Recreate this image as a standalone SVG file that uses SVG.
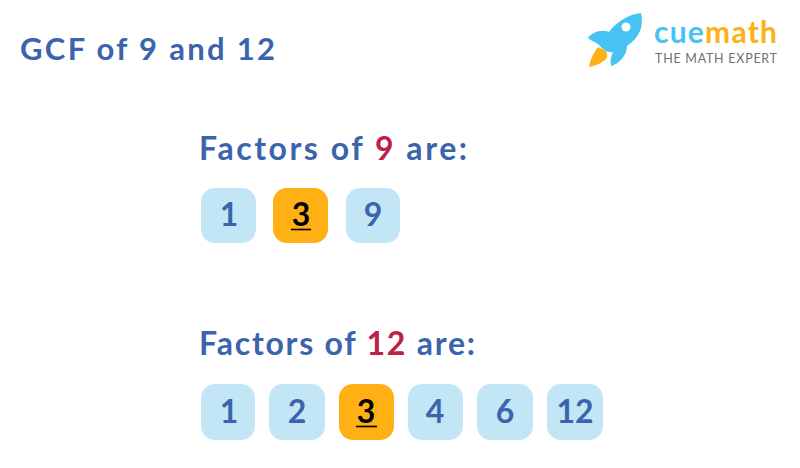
<svg xmlns="http://www.w3.org/2000/svg" width="800" height="468" viewBox="0 0 800 468">
<style>
text{font-family:"Lato","Noto Sans",sans-serif;font-weight:700}
.h{fill:#3b64ad;font-size:32px}
.r{fill:#be2047}
.n{fill:#3b64ad;font-size:32px;text-anchor:middle}
.k{fill:#000;font-size:32px;text-anchor:middle}
.b{fill:#c2e6f6}
.o{fill:#feb014}
.u{stroke:#000;stroke-width:1.6}
</style>
<rect width="800" height="468" fill="#fff"/>
<text id="title" x="20" y="60" class="h" style="font-size:31px" textLength="255" lengthAdjust="spacing">GCF of 9 and 12</text>
<g id="logo">
<path d="M641 13C644 26 640 37 627 46C627 55 620 63 611 66C610 61 611 56 613 52C608 53 603 50 599 45C596 42 591 41 588 38C592 32 602 29 609 32C617 21 630 14 641 13Z" fill="#46c3f3"/>
<circle cx="626" cy="27" r="4.500" fill="#fff"/>
<path d="M598 47L606 51C608 55 607 58 605 60C600 64 594 66 589 67C590 60 593 53 598 47Z" fill="#feb014"/>
<text x="654" y="43" style="font-size:30px;fill:#46c3f3;font-weight:700" textLength="123" lengthAdjust="spacing">cue<tspan fill="#feb014">math</tspan></text>
<text x="655" y="63" style="font-size:12.500px;fill:#6f6f6f;font-weight:400" textLength="122" lengthAdjust="spacing">THE MATH EXPERT</text>
</g>
<text id="heading-9" x="199" y="160" class="h" textLength="268" lengthAdjust="spacing">Factors of <tspan class="r">9</tspan> are:</text>
<g id="a1"><rect class="b" x="201" y="188" width="55" height="55" rx="14"/><text class="n" x="229" y="226">1</text></g>
<g id="a3"><rect class="o" x="273" y="188" width="55" height="55" rx="14"/><text class="k" x="301" y="226">3</text><line class="u" x1="291" y1="229.500" x2="311" y2="229.500"/></g>
<g id="a9"><rect class="b" x="346" y="188" width="54" height="55" rx="14"/><text class="n" x="373" y="226">9</text></g>
<text id="heading-12" x="199" y="355" class="h" textLength="276" lengthAdjust="spacing">Factors of <tspan class="r">12</tspan> are:</text>
<g id="b1"><rect class="b" x="201" y="384" width="54" height="56" rx="14"/><text class="n" x="229" y="423">1</text></g>
<g id="b2"><rect class="b" x="269" y="384" width="56" height="56" rx="14"/><text class="n" x="297" y="423">2</text></g>
<g id="b3"><rect class="o" x="339" y="384" width="55" height="56" rx="14"/><text class="k" x="366" y="423">3</text><line class="u" x1="356" y1="426.500" x2="377" y2="426.500"/></g>
<g id="b4"><rect class="b" x="408" y="384" width="55" height="56" rx="14"/><text class="n" x="435" y="423">4</text></g>
<g id="b6"><rect class="b" x="477" y="384" width="56" height="56" rx="14"/><text class="n" x="505" y="423">6</text></g>
<g id="b12"><rect class="b" x="547" y="384" width="56" height="56" rx="14"/><text class="n" x="575" y="423">12</text></g>
<g id="connectors"/>
</svg>
